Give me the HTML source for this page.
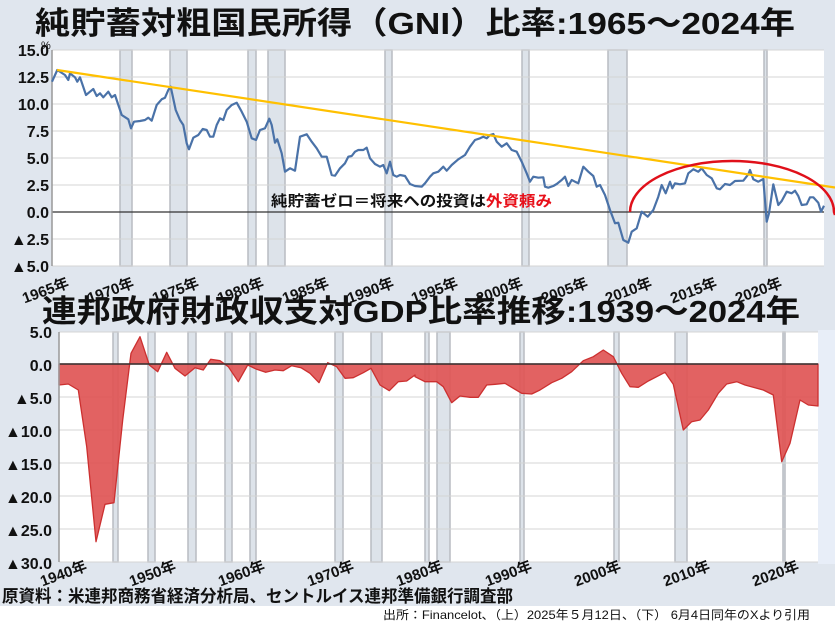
<!DOCTYPE html>
<html><head><meta charset="utf-8"><style>
html,body{margin:0;padding:0;background:#fff;}
svg{display:block;font-family:"Liberation Sans","Noto Sans CJK JP",sans-serif;}
</style></head><body>
<svg width="835" height="623" viewBox="0 0 835 623" xmlns="http://www.w3.org/2000/svg">
<rect x="0" y="0" width="835" height="606" fill="#e0e6ee"/>
<rect x="0" y="606" width="835" height="17" fill="#ffffff"/>
<text x="35" y="34" font-size="31" font-weight="bold" fill="#111" textLength="760" lengthAdjust="spacingAndGlyphs">純貯蓄対粗国民所得（GNI）比率:1965～2024年</text>
<rect x="52" y="50" width="772" height="216" fill="#fff"/>
<g fill="#dde3ea" stroke="#b8bcc2" stroke-width="1.5">
<rect x="120" y="50" width="12" height="216"/>
<rect x="170" y="50" width="17" height="216"/>
<rect x="248" y="50" width="8" height="216"/>
<rect x="268" y="50" width="17" height="216"/>
<rect x="385" y="50" width="7" height="216"/>
<rect x="522" y="50" width="7" height="216"/>
<rect x="608" y="50" width="19" height="216"/>
<rect x="764" y="50" width="3" height="216"/>
</g>
<g stroke="#d4d4d4" stroke-width="1">
<line x1="52" y1="50" x2="824" y2="50"/><line x1="52" y1="77" x2="824" y2="77"/>
<line x1="52" y1="104" x2="824" y2="104"/><line x1="52" y1="131" x2="824" y2="131"/>
<line x1="52" y1="158" x2="824" y2="158"/><line x1="52" y1="185" x2="824" y2="185"/>
<line x1="52" y1="239" x2="824" y2="239"/><line x1="52" y1="266" x2="824" y2="266"/>
</g>
<line x1="52" y1="212" x2="824" y2="212" stroke="#333" stroke-width="1.2"/>
<line x1="52" y1="50" x2="52" y2="266" stroke="#999" stroke-width="1.5"/>
<g font-size="16" font-weight="bold" fill="#111" text-anchor="end">
<text x="49" y="56">15.0</text><text x="49" y="83">12.5</text><text x="49" y="110">10.0</text>
<text x="49" y="137">7.5</text><text x="49" y="164">5.0</text><text x="49" y="191">2.5</text>
<text x="49" y="218">0.0</text><text x="49" y="245">▲2.5</text><text x="49" y="272">▲5.0</text>
</g>
<text x="41" y="49" font-size="11" fill="#111">%</text>
<polyline fill="none" stroke="#4a72a8" stroke-width="2.2" stroke-linejoin="round" points="
52,81.7 57.3,70 65,75 68.3,80 70,73.3 75,77.3 77.3,81.7 80,77.3 86,95 90,91.7 93.3,89 96.7,96 100,93.3 103.3,97.3 108.3,91.7 111.7,97.3 115,95 121.7,115 128.3,119.3 131,128.3 134,121.7 140,121 145,120 148.3,117.7 151.7,120.7 156.7,105 161.7,99.3 165,97.7 168.3,90 170.7,86.7 175.7,110 180,120 183.3,125 186.7,143.3 189,149.3 193.3,137.7 198.3,135 202.7,129 206.7,130 210,136.7 213.3,136.7 216.7,125 220,118.3 223.3,120 226.7,110 231.7,105 236.7,102.7 241.7,111.7 246.7,121.7 251.7,138.3 256,140 260,130 265,128.3 269.3,118.7 271.7,125 275,142.7 277.3,139.3 281.7,153.3 285,171.7 290,168.3 295,170.7 300,136.7 306.7,134.3 311.7,141.7 316.7,148.3 321.7,156.7 326.7,156.7 331.7,175 335,175.7 340,168.3 345,163.3 348.3,156.7 351.7,156 355,151.7 358.3,150 363.3,150 366.7,147.7 370,158.3 375,164 380,166.7 383.3,165 386.7,173.3 390,161.7 393.3,175 396.7,176.7 400,175 405,176 410,184 415,186 421.7,186.7 425,183.3 430,176.7 433.3,173.3 438.3,171.7 443.3,166.7 446.7,170.7 451.7,165 458.3,159.3 465,155 470,146.7 475,140 480,138.3 483.3,136.7 486.7,138.3 490,135 493.3,134 496.7,141.7 501.7,146.7 506.7,143.3 511.7,150 516.7,151.7 521.7,161.7 526.7,173.3 530,181.7 533.3,176.7 538.3,177.7 543.3,177.3 545,186.7 548.3,187.7 553.3,186 556.7,184 561.7,180 565,176.7 568.3,186 571.7,180 575,181.7 578.3,183.3 583.3,166.7 588.3,171.7 593.3,176 596.7,186.7 600,185 605,195 610,210 615,223.3 618.3,222.7 623.3,240 628.3,242.7 631.7,231.7 636.7,228.3 641.7,211.7 647.7,216.7 653.3,210 658.3,196.7 661.7,185 665.7,193.3 670,181.7 672.3,188.3 675,183.3 680,184.3 685,183.3 688.3,173.3 693.3,169.3 698.3,171.7 701.7,168.3 706.7,175 711.7,178.3 716.7,188.3 720,189.3 725,184 730,185 735,181 743.3,180.7 748.3,174.3 750,170 753.3,179.3 758.3,181.7 763.3,179 766.7,221.7 769,213.3 773.3,184.3 778.3,205 781.7,201 786.7,191.7 791.7,193.3 795,190.7 798.3,196 801.7,205 806.7,204.3 810,197.3 813.3,197.3 818.3,202.7 821,211.7 824,205.7"/>
<line x1="57" y1="70" x2="835" y2="187.5" stroke="#ffc000" stroke-width="2.2"/>
<path d="M630,212 A102,51 0 0 1 834,212 L835,215" fill="none" stroke="#e0101a" stroke-width="2.5"/>
<text x="271" y="206" font-size="15" font-weight="bold" fill="#111" textLength="281" lengthAdjust="spacingAndGlyphs">純貯蓄ゼロ＝将来への投資は<tspan fill="#e8101a">外資頼み</tspan></text>
<g font-size="15" font-weight="bold" fill="#111" text-anchor="end">
<text transform="translate(70,287) rotate(-20)">1965年</text>
<text transform="translate(135,287) rotate(-20)">1970年</text>
<text transform="translate(200,287) rotate(-20)">1975年</text>
<text transform="translate(265,287) rotate(-20)">1980年</text>
<text transform="translate(330,287) rotate(-20)">1985年</text>
<text transform="translate(395,287) rotate(-20)">1990年</text>
<text transform="translate(459,287) rotate(-20)">1995年</text>
<text transform="translate(524,287) rotate(-20)">2000年</text>
<text transform="translate(589,287) rotate(-20)">2005年</text>
<text transform="translate(653,287) rotate(-20)">2010年</text>
<text transform="translate(718,287) rotate(-20)">2015年</text>
<text transform="translate(783,287) rotate(-20)">2020年</text>
</g>
<text x="42" y="322" font-size="31" font-weight="bold" fill="#111" textLength="758" lengthAdjust="spacingAndGlyphs">連邦政府財政収支対GDP比率推移:1939～2024年</text>
<rect x="818" y="330" width="17" height="234" fill="#e8eef8"/>
<rect x="59" y="332" width="759" height="230" fill="#fff"/>
<g fill="#dde3ea" stroke="#b8bcc2" stroke-width="1.5">
<rect x="113" y="332" width="5" height="230"/>
<rect x="148" y="332" width="7" height="230"/>
<rect x="188" y="332" width="8" height="230"/>
<rect x="225" y="332" width="7" height="230"/>
<rect x="250" y="332" width="6" height="230"/>
<rect x="335" y="332" width="8" height="230"/>
<rect x="371" y="332" width="11" height="230"/>
<rect x="425" y="332" width="4" height="230"/>
<rect x="437" y="332" width="13" height="230"/>
<rect x="520" y="332" width="4" height="230"/>
<rect x="614" y="332" width="5" height="230"/>
<rect x="675" y="332" width="12" height="230"/>
<rect x="783" y="332" width="2" height="230"/>
</g>
<g stroke="#d4d4d4" stroke-width="1">
<line x1="59" y1="332" x2="818" y2="332"/><line x1="59" y1="397" x2="818" y2="397"/>
<line x1="59" y1="430" x2="818" y2="430"/><line x1="59" y1="463" x2="818" y2="463"/>
<line x1="59" y1="496" x2="818" y2="496"/><line x1="59" y1="529" x2="818" y2="529"/>
<line x1="59" y1="562" x2="818" y2="562"/>
</g>
<path fill="#e05555" fill-opacity="0.92" stroke="#cc3030" stroke-width="1.3" stroke-linejoin="round" d="M59,364 L59,385 68.3,384 78.3,390 86.7,446.7 96,541.7 105,504.3 114,502.7 122.7,420 131,353.3 140,336.7 149.3,365 157.7,371.7 166.7,352.3 175,368.3 185,376 195,367.7 203.3,370 210.7,359.3 220,360.7 228.3,366.7 238.3,381.7 247.7,365 256.7,369.3 265.7,372.3 275,370 283.3,370.7 291.7,365.7 301,367.7 310,373.3 319,382.7 327.7,362.7 336.7,366.7 345,378.3 353.3,377.7 363.3,372.7 371,368.3 380,385 389.3,390.7 398.3,381.7 406.7,381 415,375 415,376.7 425,381.7 436.7,381.7 443.3,386.7 451.7,402.7 460,396 470,397.3 478.3,397.3 486.7,385 495,384.3 505,383.3 513.3,388.3 521.7,393.3 531.7,394 540,390 551.7,382.7 561.7,378.3 571.7,371.7 583.3,360.7 593.3,356.7 603.3,350 613.3,356.7 621.7,373.3 630,386.7 638.3,387.3 648.3,381 656.7,376.7 665,372.3 673.3,384.3 683.3,430 691.7,421.7 700,420 708.3,410 718.3,393.3 726.7,384 736.7,381.7 745,385 755,387.7 763.3,390 773.3,395 781.7,461.7 790,443.3 800,400 808.3,405 818,406 L818,364 Z"/>
<line x1="59" y1="364" x2="818" y2="364" stroke="#333" stroke-width="1.5"/>
<line x1="59" y1="332" x2="59" y2="562" stroke="#999" stroke-width="1.5"/>
<g font-size="16" font-weight="bold" fill="#111" text-anchor="end">
<text x="52" y="338">5.0</text><text x="52" y="371">0.0</text><text x="52" y="404">▲5.0</text>
<text x="52" y="437">▲10.0</text><text x="52" y="470">▲15.0</text><text x="52" y="503">▲20.0</text>
<text x="52" y="536">▲25.0</text><text x="52" y="569">▲30.0</text>
</g>
<g font-size="15" font-weight="bold" fill="#111" text-anchor="end">
<text transform="translate(88,570) rotate(-20)">1940年</text>
<text transform="translate(177,570) rotate(-20)">1950年</text>
<text transform="translate(266,570) rotate(-20)">1960年</text>
<text transform="translate(355,570) rotate(-20)">1970年</text>
<text transform="translate(444,570) rotate(-20)">1980年</text>
<text transform="translate(533,570) rotate(-20)">1990年</text>
<text transform="translate(622,570) rotate(-20)">2000年</text>
<text transform="translate(711,570) rotate(-20)">2010年</text>
<text transform="translate(800,570) rotate(-20)">2020年</text>
</g>
<text x="2" y="602" font-size="17" font-weight="bold" fill="#111" textLength="511" lengthAdjust="spacingAndGlyphs">原資料：米連邦商務省経済分析局、セントルイス連邦準備銀行調査部</text>
<text x="383" y="619" font-size="12" fill="#111" textLength="427" lengthAdjust="spacingAndGlyphs">出所：Financelot、（上）2025年５月12日、（下） 6月4日同年のXより引用</text>
</svg>
</body></html>
